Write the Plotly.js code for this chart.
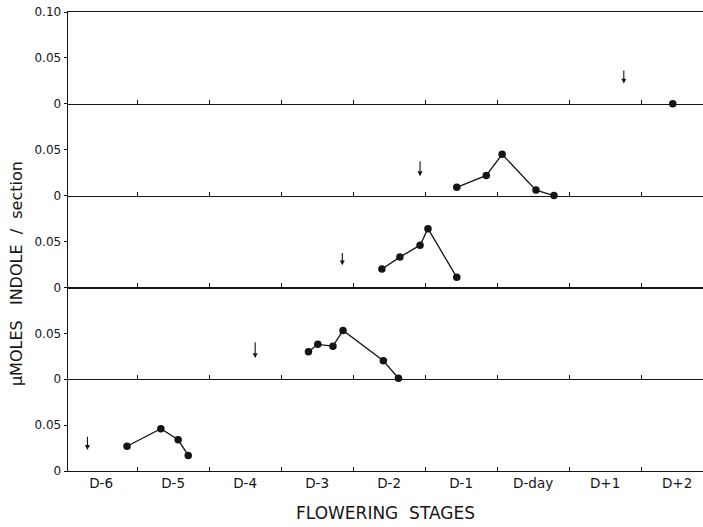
<!DOCTYPE html>
<html><head><meta charset="utf-8">
<script src="https://cdn.plot.ly/plotly-3.0.1.min.js"></script>
<style>html,body{margin:0;padding:0;background:#fff}#chart{width:703px;height:527px}</style>
</head><body><div id="chart"></div><script>
// Flowering stage categories (label centred in each day interval)
const stageLabels = ['D-6','D-5','D-4','D-3','D-2','D-1','D-day','D+1','D+2'];
const stageCenters = [0.5,1.5,2.5,3.5,4.5,5.5,6.5,7.5,8.5];
const stageBounds = [1,2,3,4,5,6,7,8];

// Panels, top (1) to bottom (5): x = position on stage scale, y = µmoles indole / section
const p1x = [8.44];
const p1y = [0.000];
const p2x = [5.44, 5.85, 6.07, 6.54, 6.79];
const p2y = [0.009, 0.022, 0.045, 0.006, 0.000];
const p3x = [4.40, 4.65, 4.93, 5.04, 5.44];
const p3y = [0.020, 0.033, 0.046, 0.064, 0.011];
const p4x = [3.38, 3.51, 3.72, 3.86, 4.42, 4.63];
const p4y = [0.030, 0.038, 0.036, 0.053, 0.020, 0.001];
const p5x = [0.86, 1.33, 1.57, 1.71];
const p5y = [0.027, 0.046, 0.034, 0.017];

// Down arrows marking each series (panel 1..5)
const arrowX    = [7.76, 4.93, 3.85, 2.64, 0.31];
const arrowTail = [0.038, 0.039, 0.039, 0.042, 0.039];
const arrowTip  = [0.022, 0.021, 0.024, 0.023, 0.023];

const ink = '#151515';
const fontFam = '"DejaVu Sans", Verdana, sans-serif';
const panelsX = [p1x, p2x, p3x, p4x, p5x];
const panelsY = [p1y, p2y, p3y, p4y, p5y];

const traces = [];
const layout = {
  width: 703, height: 527,
  margin: {l: 68, r: 0, t: 12, b: 56},
  paper_bgcolor: '#fff', plot_bgcolor: '#fff',
  showlegend: false, hovermode: false,
  font: {family: fontFam, color: ink, size: 12},
  annotations: []
};

for (let p = 0; p < 5; p++) {
  // panel p (0 = top) -> axis index k (1 = bottom)
  const k = 5 - p;
  const sfx = k === 1 ? '' : String(k);
  const xa = 'x' + sfx, ya = 'y' + sfx;
  traces.push({
    type: 'scatter', mode: 'lines+markers',
    x: panelsX[p], y: panelsY[p], xaxis: xa, yaxis: ya,
    line: {color: ink, width: 1.3},
    marker: {color: ink, size: 7.5},
    cliponaxis: false
  });
  const top = k === 5;
  layout['yaxis' + sfx] = {
    domain: [(k - 1) * 0.2, k * 0.2],
    range: [0, 0.1], anchor: xa,
    tickmode: 'array',
    tickvals: top ? [0, 0.05, 0.1] : [0, 0.05],
    ticktext: top ? ['0', '0.05', '0.10'] : ['0', '0.05'],
    ticks: 'outside', ticklen: 3, tickwidth: 1, tickcolor: ink,
    showline: true, linecolor: ink, linewidth: 1.4,
    showgrid: false, zeroline: false,
    tickfont: {size: 12, color: ink, family: fontFam}
  };
  const xax = {
    range: [0.04, 8.86], anchor: ya,
    showline: true, linecolor: ink, linewidth: 1.2,
    showgrid: false, zeroline: false
  };
  if (k === 1) {
    Object.assign(xax, {
      tickmode: 'array', tickvals: stageCenters, ticktext: stageLabels,
      ticks: '', tickfont: {size: 13.5, color: ink, family: fontFam},
      minor: {tickmode: 'array', tickvals: stageBounds, ticks: 'inside', ticklen: 4, tickwidth: 1, tickcolor: ink, showgrid: false},
      title: {text: 'FLOWERING  STAGES', font: {size: 17, color: ink, family: fontFam}, standoff: 16}
    });
  } else {
    Object.assign(xax, {
      matches: 'x', tickmode: 'array', tickvals: stageBounds,
      ticks: 'inside', ticklen: 4, tickwidth: 1, tickcolor: ink,
      showticklabels: false
    });
    if (top) xax.mirror = true;
  }
  layout['xaxis' + sfx] = xax;
  layout.annotations.push({
    xref: xa, yref: ya, axref: xa, ayref: ya,
    x: arrowX[p], y: arrowTip[p], ax: arrowX[p], ay: arrowTail[p],
    showarrow: true, arrowhead: 2, arrowsize: 0.9, arrowwidth: 1.1,
    arrowcolor: ink, text: ''
  });
}

layout.annotations.push({
  xref: 'paper', yref: 'paper', x: -0.082, y: 0.431,
  xanchor: 'center', yanchor: 'middle', textangle: -90, showarrow: false,
  text: 'μMOLES   INDOLE  /  section',
  font: {size: 16, color: ink, family: fontFam}
});

Plotly.newPlot('chart', traces, layout, {staticPlot: true, displayModeBar: false});
</script></body></html>
